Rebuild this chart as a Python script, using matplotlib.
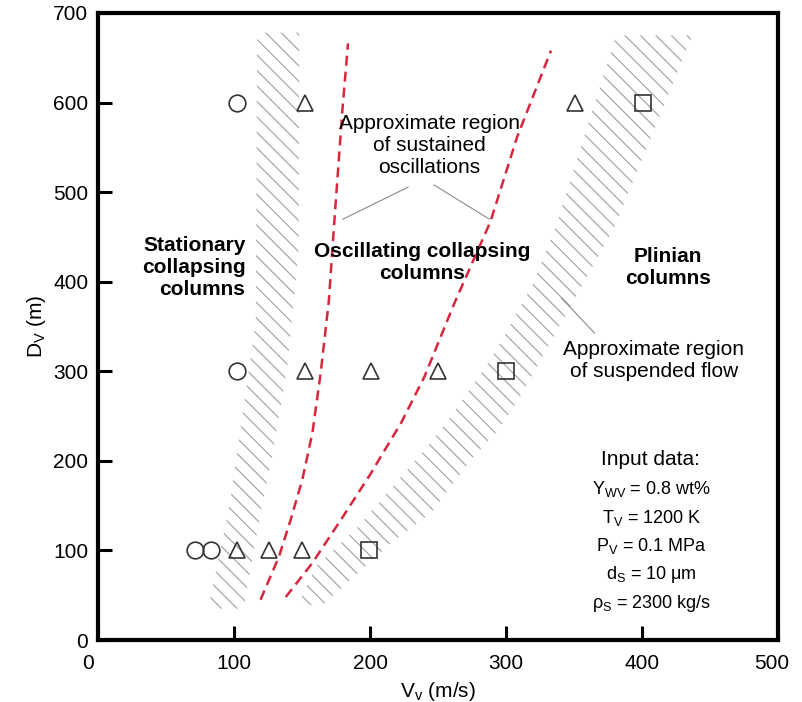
import matplotlib
matplotlib.use('Agg')
import numpy as np
import matplotlib.pyplot as plt
from matplotlib.patches import Polygon
from matplotlib.collections import LineCollection
from matplotlib.transforms import ScaledTranslation

plt.rcParams['font.family'] = ['Liberation Sans', 'DejaVu Sans']
plt.rcParams['mathtext.default'] = 'regular'

# marker data (Vv in m/s, Dv in m)
circle_v = [102, 102, 71, 83]
circle_d = [600, 300, 100, 100]
triangle_v = [152, 351, 152, 201, 250, 102, 126, 150]
triangle_d = [600, 600, 300, 300, 300, 100, 100, 100]
square_v = [401, 300, 199]
square_d = [600, 300, 100]

# red dashed boundaries of the sustained oscillation region
line1_v = [119.5, 133, 141.6, 150.2, 157.6, 163.7, 169.8, 173.3, 179.7, 183.8]
line1_d = [45, 93, 134, 179, 231, 298, 380, 458, 592, 666]
line2_v = [138, 157.6, 178.5, 200.6, 208, 222.7, 240, 262, 288.5, 308, 333]
line2_d = [48, 86, 134, 186, 205, 242, 294, 376, 467, 561, 658]

# hatched band: stationary / oscillating transition
band1_left_v = [81, 97, 102.5, 116, 117]
band1_left_d = [35, 153, 212, 355, 678]
band1_right_v = [107, 119.5, 128, 139, 147.5, 148]
band1_right_d = [35, 142, 205, 302, 436, 678]

# hatched band: suspended flow
band2_left_v = [147, 160, 191, 208, 225, 241, 257, 272, 286.6, 298.7, 308.8, 319, 336, 381]
band2_left_d = [39, 82, 126, 156, 186, 214, 244, 277, 309, 339, 368, 395, 459, 675]
band2_right_v = [165, 208, 215, 245, 274, 294, 308.8, 316, 380, 437]
band2_right_d = [39, 98, 108, 142, 201, 234, 268, 287, 462, 675]

input_lines = [r'$\mathregular{Y_{WV}}$ = 0.8 wt%',
               r'$\mathregular{T_V}$ = 1200 K',
               r'$\mathregular{P_V}$ = 0.1 MPa',
               r'$\mathregular{d_S}$ = 10 μm',
               r'$\mathregular{ρ_S}$ = 2300 kg/s']

fig = plt.figure(figsize=(8.02, 7.02), dpi=100)
ax = fig.add_axes([0.1222, 0.0883, 0.848, 0.8932])
ax.set_xlim(0, 500)
ax.set_ylim(0, 700)

# axes size in pixels, used to draw 45 degree hatch lines
W, H = 802 * 0.848, 702 * 0.8932


def hatch_band(lv, ld, rv, rd, step=15.5):
    pts = list(zip(lv, ld)) + list(zip(rv, rd))[::-1]
    poly = Polygon(pts, closed=True, facecolor='none', edgecolor='none')
    ax.add_patch(poly)
    segs = [[(k / W, 0), ((k - H) / W, 1)] for k in np.arange(0, W + H + step, step)]
    lc = LineCollection(segs, transform=ax.transAxes, colors='#a3a3a3', linewidths=0.85)
    lc.set_clip_path(poly)
    ax.add_collection(lc, autolim=False)


hatch_band(band1_left_v, band1_left_d, band1_right_v, band1_right_d)
hatch_band(band2_left_v, band2_left_d, band2_right_v, band2_right_d)

red = '#d7263d'
ax.plot(line1_v, line1_d, color=red, lw=1.8, dashes=(4, 2.4))
ax.plot(line2_v, line2_d, color=red, lw=1.8, dashes=(4, 2.4))

mk = dict(linestyle='none', markerfacecolor='none', markeredgecolor='#333333',
          markeredgewidth=1.2)
ax.plot(circle_v, circle_d, marker='o', markersize=12, **mk)
ax.plot(triangle_v, triangle_d, marker='^', markersize=11, **mk)
ax.plot(square_v, square_d, marker='s', markersize=11, **mk)

# leader lines
lc = '#8a8a8a'
ax.plot([228, 180], [505.6, 469.8], color=lc, lw=0.8)
ax.plot([247, 287.6], [508, 470], color=lc, lw=0.8)
ax.plot([365, 340.7], [342.8, 381.8], color=lc, lw=0.8)

ax.text(108.4, 416, 'Stationary\ncollapsing\ncolumns', ha='right', va='center',
        ma='right', fontsize=15, fontweight='bold', linespacing=1.2)
ax.text(238, 421, 'Oscillating collapsing\ncolumns', ha='center', va='center',
        fontsize=15, fontweight='bold', linespacing=1.2)
ax.text(419, 416, 'Plinian\ncolumns', ha='center', va='center',
        fontsize=15, fontweight='bold', linespacing=1.2)
ax.text(243.4, 552.6, 'Approximate region\nof sustained\noscillations',
        ha='center', va='center', fontsize=15, linespacing=1.2)
ax.text(408.6, 312, 'Approximate region\nof suspended flow',
        ha='center', va='center', fontsize=15, linespacing=1.2)
ax.text(406, 201, 'Input data:', ha='center', va='center', fontsize=15)
ax.text(407, 104, '\n'.join(input_lines), ha='center', va='center',
        fontsize=13, linespacing=1.55)

ax.set_xticks(range(0, 501, 100))
ax.set_yticks(range(0, 701, 100))
ax.tick_params(axis='both', direction='in', length=10, width=2.2, labelsize=15)
ax.tick_params(axis='x', pad=10)
ax.tick_params(axis='y', pad=7)
for s in ax.spines.values():
    s.set_linewidth(3)
ax.set_xlabel(r'$\mathregular{V_v}$ (m/s)', fontsize=15, labelpad=5)
ax.set_ylabel(r'$\mathregular{D_V}$ (m)', fontsize=15, labelpad=4)

# the outer x tick labels sit a little to the left in the original
xlabels = ax.get_xticklabels()
for lab, dx in ((xlabels[0], -10), (xlabels[-1], -6)):
    lab.set_transform(lab.get_transform() + ScaledTranslation(dx / 100, 0, fig.dpi_scale_trans))

plt.savefig('out.png', dpi=100)
